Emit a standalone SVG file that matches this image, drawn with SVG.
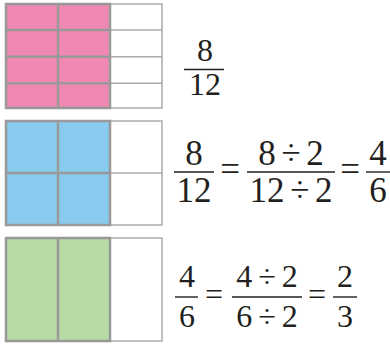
<svg xmlns="http://www.w3.org/2000/svg" width="390" height="344" viewBox="0 0 390 344">
<style>
.w{fill:#fff;stroke:#aaa;stroke-width:1.5}
.c{stroke:#999;stroke-width:2.5}
.ln{stroke:#231f20;stroke-width:1.4}
.t{font-family:'Liberation Serif','Times New Roman',serif;fill:#231f20;text-anchor:middle}
.s1{font-size:32px}
.s2{font-size:35px}
</style>
<rect width="390" height="344" fill="#fff"/>
<g id="grid-pink">
<rect class="w" x="110" y="4" width="52" height="104"/>
<line class="w" x1="110" y1="30" x2="162" y2="30"/>
<line class="w" x1="110" y1="56.7" x2="162" y2="56.7"/>
<line class="w" x1="110" y1="83.3" x2="162" y2="83.3"/>
<rect class="c" fill="#F088B4" x="6" y="4" width="104" height="104"/>
<line class="c" x1="58" y1="4" x2="58" y2="108"/>
<line class="c" x1="6" y1="30" x2="110" y2="30"/>
<line class="c" x1="6" y1="56.7" x2="110" y2="56.7"/>
<line class="c" x1="6" y1="83.3" x2="110" y2="83.3"/>
</g>
<g id="grid-blue">
<rect class="w" x="110" y="121" width="52" height="104"/>
<line class="w" x1="110" y1="173" x2="162" y2="173"/>
<rect class="c" fill="#88CBEE" x="6" y="121" width="104" height="104"/>
<line class="c" x1="58" y1="121" x2="58" y2="225"/>
<line class="c" x1="6" y1="173" x2="110" y2="173"/>
</g>
<g id="grid-green">
<rect class="w" x="110" y="238" width="52" height="103"/>
<rect class="c" fill="#B8DBA5" x="6" y="238" width="104" height="103"/>
<line class="c" x1="58" y1="238" x2="58" y2="341"/>
</g>
<g id="eq1">
<text class="t s1" x="205" y="61">8</text>
<line class="ln" x1="184" y1="69.5" x2="224" y2="69.5"/>
<text class="t s1" x="205" y="95">12</text>
</g>
<g id="eq2">
<text class="t s2" x="194" y="165">8</text>
<line class="ln" x1="174" y1="172" x2="214" y2="172"/>
<text class="t s2" x="194" y="202">12</text>
<text class="t s2" x="230" y="181">=</text>
<text class="t s2" x="291" y="165" word-spacing="-3">8 ÷ 2</text>
<line class="ln" x1="247" y1="172" x2="335" y2="172"/>
<text class="t s2" x="291" y="202" word-spacing="-3">12 ÷ 2</text>
<text class="t s2" x="350" y="181">=</text>
<text class="t s2" x="378" y="165">4</text>
<line class="ln" x1="366" y1="172" x2="390" y2="172"/>
<text class="t s2" x="378" y="202">6</text>
</g>
<g id="eq3">
<text class="t s1" x="187" y="287">4</text>
<line class="ln" x1="175" y1="297" x2="198" y2="297"/>
<text class="t s1" x="187" y="327">6</text>
<text class="t s1" x="214" y="305">=</text>
<text class="t s1" x="267" y="287" word-spacing="-2">4 ÷ 2</text>
<line class="ln" x1="232" y1="297" x2="302" y2="297"/>
<text class="t s1" x="267" y="327" word-spacing="-2">6 ÷ 2</text>
<text class="t s1" x="317" y="305">=</text>
<text class="t s1" x="345" y="287">2</text>
<line class="ln" x1="333" y1="297" x2="357" y2="297"/>
<text class="t s1" x="345" y="327">3</text>
</g>
</svg>
